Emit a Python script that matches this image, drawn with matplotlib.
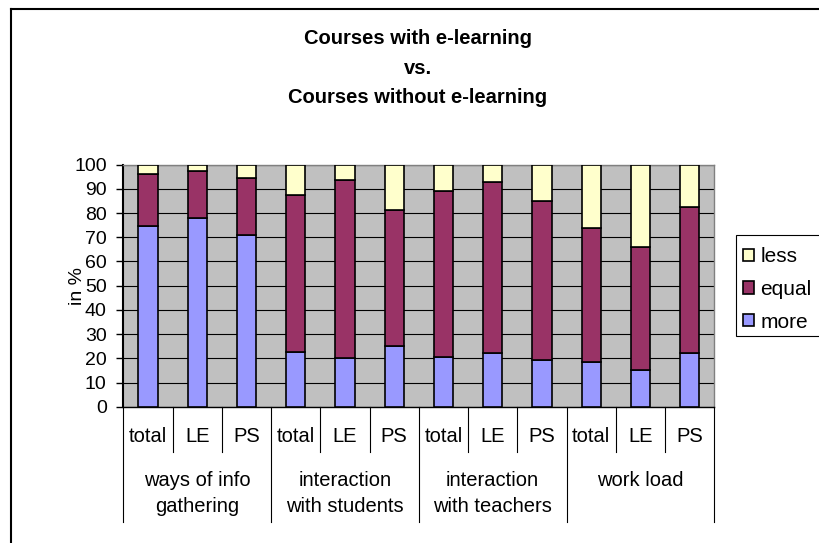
import matplotlib
matplotlib.use("Agg")
import matplotlib.pyplot as plt
from matplotlib.lines import Line2D
from matplotlib.patches import Patch, Rectangle
from matplotlib.transforms import blended_transform_factory
import numpy as np

plt.rcParams["font.family"] = ["Liberation Sans", "DejaVu Sans"]

# data (percent)
groups = ["ways of info\ngathering", "interaction\nwith students",
          "interaction\nwith teachers", "work load"]
subgroups = ["total", "LE", "PS"]
more = [74.5, 78.0, 71.0, 22.7, 20.3, 25.2, 20.5, 22.2, 19.1, 18.3, 15.3, 22.2]
equal = [21.8, 19.6, 23.6, 64.8, 73.2, 56.1, 68.8, 70.6, 65.9, 55.7, 50.7, 60.3]
less = [3.7, 2.4, 5.4, 12.5, 6.5, 18.7, 10.7, 7.2, 15.0, 26.0, 34.0, 17.5]

W, H = 819, 543
fig = plt.figure(figsize=(W / 100, H / 100), dpi=100)

def fy(py):
    # pixel row -> figure fraction
    return 1 - py / H

# plot area
x0, x1, y_top, y_bot = 123.3, 714.3, 164.7, 406.7
ax = fig.add_axes([x0 / W, fy(y_bot), (x1 - x0) / W, (y_bot - y_top) / H])

x = np.arange(len(more))
bw = 0.39
bot2 = np.array(more) + np.array(equal)
ax.bar(x, more, bw, color="#9999FF", edgecolor="black", linewidth=1.2, zorder=3)
ax.bar(x, equal, bw, bottom=more, color="#993366", edgecolor="black", linewidth=1.2, zorder=3)
ax.bar(x, less, bw, bottom=bot2, color="#FFFFCC", edgecolor="black", linewidth=1.2, zorder=3)

ax.set_xlim(-0.5, len(more) - 0.5)
ax.set_ylim(0, 100)
ax.set_facecolor("#C0C0C0")
ax.set_yticks(range(0, 101, 10))
ax.tick_params(axis="y", labelsize=14, length=5, width=1, pad=7, color="black")
ax.set_xticks([])
ax.grid(axis="y", color="black", linewidth=0.8, zorder=1)
ax.set_axisbelow(True)
ax.spines["left"].set_linewidth(1.5)
ax.spines["bottom"].set_linewidth(1.0)
for s in ["top", "right"]:
    ax.spines[s].set_color("#808080")
    ax.spines[s].set_linewidth(1.0)

fig.text(77 / W, fy(286), "in %", rotation=90, ha="center", va="center", fontsize=14)

# category labels under the axis
trans = blended_transform_factory(ax.transData, fig.transFigure)
for i in x:
    ax.text(i, fy(436.7), subgroups[i % 3], transform=trans,
            ha="center", va="center", fontsize=14.5)
for g, name in enumerate(groups):
    cx = g * 3 + 1
    for k, line in enumerate(name.split("\n")):
        ax.text(cx, fy(480 + 27 * k), line, transform=trans,
                ha="center", va="center", fontsize=14.5)

for i in range(len(more) + 1):
    b = i - 0.5
    end = 521.7 if i % 3 == 0 else 451.7
    fig.add_artist(Line2D([b, b], [fy(y_bot), fy(end)], transform=trans,
                          color="black", linewidth=0.8))

# title
title_lines = ["Courses with e-learning", "vs.", "Courses without e-learning"]
for k, t in enumerate(title_lines):
    fig.text(418 / W, fy(38.5 + 29.5 * k), t, ha="center", va="center",
             fontsize=14.5, fontweight="bold")

# chart border (left and top edges visible)
fig.add_artist(Line2D([11 / W, 11 / W], [0, fy(9)], color="black", linewidth=1.5))
fig.add_artist(Line2D([11 / W, 1], [fy(9), fy(9)], color="black", linewidth=1.5))

# legend box runs off the right edge of the picture
fig.add_artist(Rectangle((735.7 / W, fy(336)), 100 / W, 101 / H,
                         transform=fig.transFigure, facecolor="white",
                         edgecolor="black", linewidth=0.8))
handles = [Patch(facecolor="#FFFFCC", edgecolor="black", linewidth=1.2),
           Patch(facecolor="#993366", edgecolor="black", linewidth=1.2),
           Patch(facecolor="#9999FF", edgecolor="black", linewidth=1.2)]
leg = fig.legend(handles, ["less", "equal", "more"], loc="upper left",
                 bbox_to_anchor=(730 / W, fy(235)), frameon=False,
                 borderaxespad=0, handlelength=0.55, handleheight=0.55,
                 handletextpad=0.3, labelspacing=0.65, borderpad=0.6, fontsize=15)

fig.savefig("out.png", dpi=100)
